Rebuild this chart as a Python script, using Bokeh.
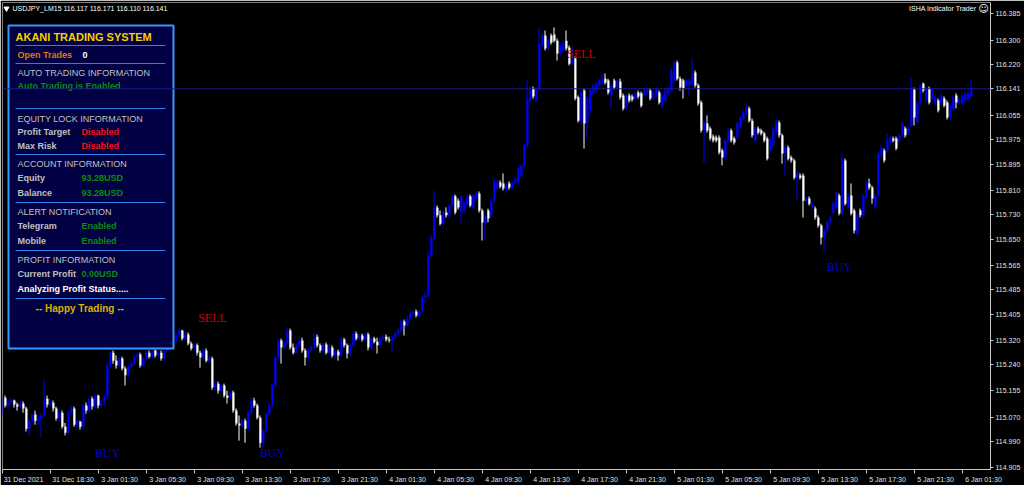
import numpy as np
from bokeh.plotting import figure
from bokeh.models import Range1d, FixedTicker, Label, Span, ColumnDataSource, PrintfTickFormatter
from bokeh.core.properties import value
from bokeh.embed import file_html
from bokeh.resources import INLINE

symbol = "USDJPY_LM15"
indicator_name = "ISHA Indicator Trader"

opens = [
    115.084, 115.133, 115.108, 115.117, 115.124, 115.111, 115.104, 115.114, 115.098, 115.032,
    115.058, 115.078, 115.058, 115.065, 115.075, 115.130, 115.111, 115.117, 115.098, 115.065,
    115.084, 115.038, 115.019, 115.084, 115.098, 115.045, 115.055, 115.038, 115.108, 115.091,
    115.130, 115.104, 115.140, 115.108, 115.117, 115.137, 115.238, 115.280, 115.254, 115.238,
    115.261, 115.228, 115.206, 115.234, 115.244, 115.267, 115.274, 115.238, 115.261, 115.280,
    115.267, 115.287, 115.271, 115.280, 115.261, 115.287, 115.304, 115.310, 115.320, 115.336,
    115.352, 115.326, 115.339, 115.310, 115.294, 115.304, 115.280, 115.264, 115.287, 115.254,
    115.261, 115.166, 115.179, 115.156, 115.173, 115.140, 115.133, 115.150, 115.091, 115.049,
    115.042, 115.058, 115.032, 115.084, 115.124, 115.108, 115.068, 114.986, 115.026, 115.081,
    115.108, 115.173, 115.264, 115.320, 115.297, 115.310, 115.352, 115.297, 115.280, 115.304,
    115.320, 115.287, 115.264, 115.287, 115.297, 115.332, 115.304, 115.287, 115.307, 115.280,
    115.297, 115.271, 115.284, 115.271, 115.323, 115.304, 115.277, 115.304, 115.342, 115.326,
    115.336, 115.323, 115.339, 115.297, 115.326, 115.316, 115.304, 115.326, 115.332, 115.323,
    115.320, 115.329, 115.342, 115.352, 115.382, 115.369, 115.391, 115.407, 115.414, 115.401,
    115.414, 115.460, 115.467, 115.597, 115.656, 115.754, 115.728, 115.701, 115.737, 115.728,
    115.760, 115.790, 115.776, 115.737, 115.744, 115.763, 115.790, 115.754, 115.786, 115.799,
    115.744, 115.701, 115.744, 115.728, 115.776, 115.816, 115.835, 115.832, 115.809, 115.832,
    115.819, 115.835, 115.835, 115.858, 115.891, 115.956, 116.103, 116.142, 116.103, 116.142,
    116.282, 116.315, 116.272, 116.315, 116.318, 116.298, 116.256, 116.266, 116.298, 116.276,
    116.223, 116.240, 116.113, 116.031, 116.135, 116.031, 116.070, 116.126, 116.135, 116.152,
    116.161, 116.174, 116.168, 116.119, 116.168, 116.145, 116.165, 116.119, 116.077, 116.119,
    116.116, 116.109, 116.129, 116.126, 116.119, 116.129, 116.135, 116.109, 116.119, 116.129,
    116.083, 116.103, 116.126, 116.135, 116.168, 116.227, 116.174, 116.168, 116.152, 116.152,
    116.158, 116.194, 116.152, 116.096, 116.005, 116.028, 116.011, 115.985, 115.982, 115.982,
    115.940, 115.917, 115.972, 116.005, 115.979, 115.982, 116.015, 116.044, 116.060, 116.077,
    116.037, 115.972, 116.011, 116.005, 115.995, 115.979, 115.940, 115.956, 115.998, 116.031,
    115.989, 115.930, 115.949, 115.917, 115.907, 115.851, 115.858, 115.858, 115.776, 115.783,
    115.754, 115.750, 115.721, 115.695, 115.656, 115.679, 115.705, 115.737, 115.754, 115.793,
    115.734, 115.907, 115.754, 115.793, 115.744, 115.669, 115.744, 115.728, 115.786, 115.832,
    115.819, 115.754, 115.793, 115.923, 115.940, 115.940, 115.966, 115.979, 115.979, 115.972,
    115.989, 116.011, 115.998, 116.021, 116.139, 116.031, 116.093, 116.158, 116.103, 116.142,
    116.109, 116.093, 116.103, 116.093, 116.109, 116.096, 116.047, 116.077, 116.119, 116.096,
    116.093, 116.103, 116.109, 116.117,
]

highs = [
    115.143, 115.140, 115.124, 115.133, 115.127, 115.117, 115.124, 115.121, 115.104, 115.065,
    115.084, 115.091, 115.075, 115.084, 115.192, 115.140, 115.130, 115.124, 115.104, 115.091,
    115.091, 115.051, 115.091, 115.108, 115.104, 115.062, 115.058, 115.114, 115.117, 115.137,
    115.137, 115.146, 115.143, 115.127, 115.143, 115.248, 115.287, 115.287, 115.271, 115.267,
    115.267, 115.235, 115.241, 115.254, 115.274, 115.280, 115.280, 115.267, 115.287, 115.287,
    115.294, 115.290, 115.287, 115.287, 115.294, 115.310, 115.320, 115.326, 115.342, 115.359,
    115.355, 115.346, 115.346, 115.316, 115.310, 115.310, 115.287, 115.294, 115.294, 115.271,
    115.267, 115.189, 115.186, 115.179, 115.179, 115.156, 115.156, 115.156, 115.098, 115.075,
    115.065, 115.065, 115.091, 115.133, 115.133, 115.114, 115.075, 115.032, 115.088, 115.117,
    115.179, 115.271, 115.326, 115.326, 115.316, 115.362, 115.359, 115.310, 115.310, 115.326,
    115.329, 115.294, 115.294, 115.304, 115.346, 115.339, 115.310, 115.313, 115.313, 115.304,
    115.304, 115.290, 115.290, 115.329, 115.329, 115.310, 115.310, 115.349, 115.349, 115.342,
    115.342, 115.346, 115.346, 115.332, 115.332, 115.329, 115.332, 115.339, 115.339, 115.332,
    115.336, 115.349, 115.359, 115.388, 115.388, 115.398, 115.414, 115.417, 115.421, 115.421,
    115.467, 115.480, 115.613, 115.662, 115.809, 115.760, 115.744, 115.744, 115.754, 115.766,
    115.796, 115.796, 115.783, 115.793, 115.773, 115.796, 115.796, 115.799, 115.806, 115.806,
    115.750, 115.731, 115.750, 115.783, 115.848, 115.842, 115.842, 115.865, 115.835, 115.839,
    115.842, 115.855, 115.887, 115.897, 115.962, 116.168, 116.142, 116.148, 116.148, 116.341,
    116.321, 116.331, 116.305, 116.321, 116.341, 116.305, 116.289, 116.298, 116.331, 116.282,
    116.276, 116.246, 116.119, 116.135, 116.142, 116.116, 116.142, 116.158, 116.165, 116.174,
    116.191, 116.191, 116.174, 116.158, 116.174, 116.171, 116.174, 116.126, 116.126, 116.126,
    116.122, 116.132, 116.135, 116.132, 116.142, 116.145, 116.142, 116.135, 116.148, 116.135,
    116.126, 116.142, 116.148, 116.207, 116.233, 116.233, 116.181, 116.174, 116.174, 116.174,
    116.240, 116.201, 116.158, 116.103, 116.037, 116.054, 116.018, 115.992, 115.989, 115.989,
    115.946, 115.979, 116.011, 116.011, 115.985, 116.034, 116.054, 116.070, 116.096, 116.083,
    116.044, 116.018, 116.018, 116.011, 116.001, 115.985, 115.979, 116.018, 116.044, 116.037,
    115.995, 115.956, 115.956, 115.923, 115.913, 115.871, 115.865, 115.865, 115.790, 115.790,
    115.773, 115.757, 115.728, 115.701, 115.685, 115.711, 115.728, 115.773, 115.806, 115.799,
    115.930, 115.913, 115.799, 115.832, 115.750, 115.734, 115.750, 115.799, 115.842, 115.848,
    115.825, 115.799, 115.936, 115.956, 115.946, 115.995, 115.989, 115.985, 115.985, 115.995,
    116.034, 116.018, 116.021, 116.178, 116.145, 116.099, 116.158, 116.161, 116.148, 116.148,
    116.142, 116.119, 116.109, 116.126, 116.116, 116.103, 116.093, 116.119, 116.126, 116.113,
    116.126, 116.132, 116.132, 116.171,
]

lows = [
    115.075, 115.101, 115.098, 115.111, 115.101, 115.091, 115.098, 115.084, 115.023, 115.010,
    115.051, 115.045, 115.042, 115.003, 115.068, 115.101, 115.104, 115.088, 115.058, 115.055,
    115.032, 115.010, 115.013, 115.078, 115.038, 115.035, 115.029, 115.032, 115.081, 115.084,
    115.094, 115.098, 115.098, 115.101, 115.111, 115.127, 115.228, 115.244, 115.228, 115.231,
    115.222, 115.173, 115.199, 115.228, 115.238, 115.261, 115.231, 115.234, 115.254, 115.261,
    115.261, 115.264, 115.264, 115.254, 115.254, 115.280, 115.297, 115.304, 115.313, 115.329,
    115.320, 115.320, 115.304, 115.287, 115.287, 115.271, 115.231, 115.258, 115.248, 115.248,
    115.159, 115.156, 115.146, 115.150, 115.133, 115.114, 115.127, 115.084, 115.042, 114.993,
    115.035, 114.986, 115.026, 115.078, 115.101, 115.062, 114.970, 114.967, 115.019, 115.075,
    115.101, 115.166, 115.258, 115.244, 115.290, 115.304, 115.290, 115.274, 115.274, 115.297,
    115.280, 115.238, 115.258, 115.280, 115.290, 115.297, 115.280, 115.280, 115.274, 115.274,
    115.264, 115.261, 115.254, 115.264, 115.297, 115.261, 115.271, 115.297, 115.320, 115.320,
    115.316, 115.316, 115.287, 115.290, 115.310, 115.277, 115.297, 115.320, 115.316, 115.313,
    115.280, 115.323, 115.336, 115.346, 115.336, 115.362, 115.385, 115.398, 115.395, 115.395,
    115.407, 115.443, 115.460, 115.590, 115.649, 115.721, 115.695, 115.695, 115.721, 115.721,
    115.754, 115.731, 115.747, 115.701, 115.737, 115.757, 115.754, 115.747, 115.780, 115.737,
    115.646, 115.646, 115.705, 115.721, 115.770, 115.809, 115.816, 115.809, 115.799, 115.812,
    115.812, 115.829, 115.829, 115.852, 115.884, 115.949, 116.096, 116.109, 116.096, 116.135,
    116.276, 116.266, 116.266, 116.285, 116.292, 116.233, 116.250, 116.259, 116.266, 116.217,
    116.217, 116.103, 116.031, 116.025, 115.946, 115.979, 116.060, 116.119, 116.129, 116.145,
    116.155, 116.155, 116.122, 116.080, 116.139, 116.139, 116.106, 116.070, 116.070, 116.096,
    116.099, 116.103, 116.109, 116.080, 116.113, 116.122, 116.103, 116.103, 116.113, 116.090,
    116.077, 116.096, 116.119, 116.129, 116.161, 116.168, 116.135, 116.109, 116.145, 116.119,
    116.152, 116.145, 116.086, 115.998, 115.897, 115.998, 115.972, 115.966, 115.966, 115.927,
    115.891, 115.910, 115.966, 115.966, 115.959, 115.976, 116.008, 116.037, 116.054, 116.031,
    115.982, 115.966, 115.992, 115.989, 115.966, 115.907, 115.933, 115.949, 115.992, 115.982,
    115.897, 115.858, 115.907, 115.900, 115.845, 115.776, 115.845, 115.721, 115.770, 115.760,
    115.747, 115.714, 115.688, 115.633, 115.613, 115.672, 115.698, 115.731, 115.747, 115.728,
    115.728, 115.760, 115.747, 115.728, 115.669, 115.662, 115.721, 115.721, 115.780, 115.812,
    115.766, 115.747, 115.786, 115.917, 115.900, 115.933, 115.959, 115.966, 115.940, 115.966,
    115.982, 115.982, 115.992, 116.015, 116.021, 116.025, 116.086, 116.129, 116.096, 116.090,
    116.103, 116.086, 116.064, 116.086, 116.080, 116.041, 116.041, 116.070, 116.077, 116.090,
    116.086, 116.096, 116.103, 116.110,
]

closes = [
    115.133, 115.108, 115.117, 115.124, 115.111, 115.104, 115.114, 115.098, 115.032, 115.058,
    115.078, 115.058, 115.065, 115.075, 115.130, 115.111, 115.117, 115.098, 115.065, 115.084,
    115.038, 115.019, 115.084, 115.098, 115.045, 115.055, 115.038, 115.108, 115.091, 115.130,
    115.104, 115.140, 115.108, 115.117, 115.137, 115.238, 115.280, 115.254, 115.238, 115.261,
    115.228, 115.206, 115.234, 115.244, 115.267, 115.274, 115.238, 115.261, 115.280, 115.267,
    115.287, 115.271, 115.280, 115.261, 115.287, 115.304, 115.310, 115.320, 115.336, 115.352,
    115.326, 115.339, 115.310, 115.294, 115.304, 115.280, 115.264, 115.287, 115.254, 115.261,
    115.166, 115.179, 115.156, 115.173, 115.140, 115.133, 115.150, 115.091, 115.049, 115.042,
    115.058, 115.032, 115.084, 115.124, 115.108, 115.068, 114.986, 115.026, 115.081, 115.108,
    115.173, 115.264, 115.320, 115.297, 115.310, 115.352, 115.297, 115.280, 115.304, 115.320,
    115.287, 115.264, 115.287, 115.297, 115.332, 115.304, 115.287, 115.307, 115.280, 115.297,
    115.271, 115.284, 115.271, 115.323, 115.304, 115.277, 115.304, 115.342, 115.326, 115.336,
    115.323, 115.339, 115.297, 115.326, 115.316, 115.304, 115.326, 115.332, 115.323, 115.320,
    115.329, 115.342, 115.352, 115.382, 115.369, 115.391, 115.407, 115.414, 115.401, 115.414,
    115.460, 115.467, 115.597, 115.656, 115.754, 115.728, 115.701, 115.737, 115.728, 115.760,
    115.790, 115.737, 115.754, 115.786, 115.766, 115.790, 115.760, 115.793, 115.799, 115.744,
    115.705, 115.724, 115.718, 115.776, 115.842, 115.835, 115.822, 115.816, 115.829, 115.819,
    115.835, 115.848, 115.881, 115.891, 115.956, 116.109, 116.135, 116.116, 116.142, 116.289,
    116.315, 116.272, 116.298, 116.292, 116.298, 116.256, 116.282, 116.292, 116.272, 116.223,
    116.240, 116.109, 116.037, 116.129, 116.028, 116.109, 116.135, 116.152, 116.158, 116.168,
    116.174, 116.161, 116.129, 116.152, 116.145, 116.165, 116.113, 116.077, 116.119, 116.103,
    116.106, 116.126, 116.116, 116.086, 116.135, 116.135, 116.109, 116.129, 116.142, 116.096,
    116.119, 116.135, 116.142, 116.201, 116.227, 116.174, 116.145, 116.142, 116.168, 116.168,
    116.191, 116.152, 116.093, 116.005, 116.031, 116.005, 115.979, 115.972, 115.972, 115.933,
    115.917, 115.972, 116.005, 115.972, 115.966, 116.028, 116.047, 116.064, 116.077, 116.037,
    115.989, 116.011, 115.998, 115.995, 115.972, 115.913, 115.972, 116.011, 116.031, 115.989,
    115.930, 115.949, 115.913, 115.907, 115.851, 115.865, 115.851, 115.776, 115.783, 115.766,
    115.766, 115.721, 115.695, 115.656, 115.679, 115.705, 115.721, 115.766, 115.799, 115.734,
    115.907, 115.766, 115.793, 115.734, 115.679, 115.728, 115.728, 115.793, 115.835, 115.819,
    115.783, 115.793, 115.930, 115.949, 115.907, 115.972, 115.982, 115.972, 115.946, 115.989,
    116.028, 115.989, 116.015, 116.142, 116.047, 116.093, 116.152, 116.135, 116.142, 116.096,
    116.135, 116.113, 116.070, 116.119, 116.086, 116.047, 116.086, 116.113, 116.096, 116.106,
    116.119, 116.126, 116.126, 116.141,
]

time_labels = [
    "31 Dec 2021", "31 Dec 18:30", "3 Jan 01:30", "3 Jan 05:30", "3 Jan 09:30",
    "3 Jan 13:30", "3 Jan 17:30", "3 Jan 21:30", "4 Jan 01:30", "4 Jan 05:30",
    "4 Jan 09:30", "4 Jan 13:30", "4 Jan 17:30", "4 Jan 21:30", "5 Jan 01:30",
    "5 Jan 05:30", "5 Jan 09:30", "5 Jan 13:30", "5 Jan 17:30", "5 Jan 21:30",
    "6 Jan 01:30",
]
bars_per_time_label = 16

price_ticks = [116.385, 116.300, 116.220, 116.055, 115.975, 115.895, 115.810,
               115.730, 115.650, 115.565, 115.485, 115.405, 115.320, 115.240,
               115.155, 115.070, 114.990, 114.905]
bid_price = 116.141

signal_kinds = ["BUY", "BUY", "BUY", "SELL", "SELL"]
signal_bars = [35, 90, 279, 70, 193]
signal_prices = [114.954, 114.954, 115.558, 115.393, 116.256]

panel_title = "AKANI TRADING SYSTEM"
open_trades = "0"
equity = "93.28USD"
balance = "93.28USD"
current_profit = "0.00USD"

# ---------------------------------------------------------------- layout helpers
def X(px):      # horizontal image pixel -> bar index
    return (px - 2) / 3.0

def Y(py):      # vertical image pixel -> price
    return 116.429 - py / 306.5

n = len(closes)
o = np.array(opens)
h = np.array(highs)
l = np.array(lows)
c = np.array(closes)
idx = np.arange(n)
bull = c >= o
colors = np.where(bull, "#0000ff", "#ffffff")

src = ColumnDataSource(dict(
    x=idx, wx=idx - 1.0 / 6.0,
    top=np.maximum(o, c), bottom=np.minimum(o, c),
    high=h, low=l, color=colors,
))

p = figure(width=1024, height=485,
           x_range=Range1d(X(2), X(990)), y_range=Range1d(Y(469), Y(2)),
           y_axis_location="right", output_backend="svg", toolbar_location=None,
           background_fill_color="#000000", border_fill_color="#000000",
           min_border_left=2, min_border_top=2, min_border_right=34, min_border_bottom=16)
p.outline_line_color = "#808080"
p.xgrid.visible = False
p.ygrid.visible = False

AX = "#c8c8c8"
# ---- x axis (labels left-aligned at tick marks)
tick_pos = [k * bars_per_time_label for k in range(len(time_labels))]
label_pos = []
for t, s in zip(tick_pos, time_labels):
    w = len(s) * 3.4
    label_pos.append(t + round(((w / 2 + 2) / 3.0) * 4) / 4)
xa = p.xaxis[0]
xa.ticker = FixedTicker(ticks=label_pos, minor_ticks=tick_pos)
xa.major_label_overrides = {pos: s for pos, s in zip(label_pos, time_labels)}
xa.major_tick_out = 0
xa.major_tick_in = 0
xa.minor_tick_out = 4
xa.minor_tick_in = 0
xa.minor_tick_line_color = AX
xa.axis_line_color = AX
xa.major_label_text_color = "#e0e0e0"
xa.major_label_text_font = "Liberation Sans"
xa.major_label_text_font_size = "7px"
xa.major_label_standoff = 2

# ---- y axis
ya = p.yaxis[0]
ya.ticker = FixedTicker(ticks=price_ticks + [bid_price], minor_ticks=[])
ya.formatter = PrintfTickFormatter(format="%.3f")
ya.major_tick_out = 3
ya.major_tick_in = 0
ya.major_tick_line_color = AX
ya.axis_line_color = AX
ya.major_label_text_color = "#e0e0e0"
ya.major_label_text_font = "Liberation Sans"
ya.major_label_text_font_size = "7px"
ya.major_label_standoff = 2

# ---- bid line
p.add_layout(Span(location=bid_price, dimension="width", line_color="#1c1c8c", line_width=1))

# ---- candles
p.segment(x0="wx", y0="high", x1="wx", y1="low", line_color="color", line_width=1, source=src)
p.vbar(x="x", width=2.0 / 3.0, top="top", bottom="bottom", fill_color="color",
       line_color=None, source=src)

# ---- signals
sig_colors = ["#0000d0" if k == "BUY" else "#d00000" for k in signal_kinds]
p.text(x=signal_bars, y=signal_prices, text=signal_kinds, text_color=sig_colors,
       text_font=value("Liberation Serif"), text_font_size="12px",
       text_align="center", text_baseline="middle")

# ---- header texts
p.scatter(x=[X(6)], y=[Y(8)], marker="inverted_triangle", size=5,
          fill_color="#ffffff", line_color="#ffffff")
header = f"{symbol}  {opens[-1]:.3f} {highs[-1]:.3f} {lows[-1]:.3f} {closes[-1]:.3f}"
p.text(x=[X(12)], y=[Y(8)], text=[header], text_color="#ffffff",
       text_font=value("Liberation Sans"), text_font_size="7px", text_baseline="middle")
p.text(x=[X(976)], y=[Y(8)], text=[indicator_name], text_color="#ffffff",
       text_font=value("Liberation Sans"), text_font_size="7px",
       text_baseline="middle", text_align="right")
p.text(x=[X(983)], y=[Y(8)], text=["\u263a"], text_color="#ffffff",
       text_font=value("DejaVu Sans"), text_font_size="10px",
       text_baseline="middle", text_align="center")

# ---- info panel
p.quad(left=X(8), right=X(173), top=Y(25), bottom=Y(348),
       fill_color="#000042", line_color="#3a96ff", line_width=2)
sep_y = [45, 63, 108, 154, 202, 250, 298]
p.segment(x0=[X(15)] * len(sep_y), x1=[X(165)] * len(sep_y),
          y0=[Y(v) for v in sep_y], y1=[Y(v) for v in sep_y],
          line_color="#2a7fe8", line_width=1)

def ptext(items, color, size="9px", style="normal", align="left"):
    p.text(x=[X(a) for a, b, t in items], y=[Y(b) for a, b, t in items],
           text=[t for a, b, t in items], text_color=color,
           text_font=value("Liberation Sans"), text_font_size=size,
           text_font_style=style, text_baseline="middle", text_align=align)

ptext([(15, 36, panel_title)], "#f5d000", size="11px", style="bold")
ptext([(17, 54, "Open Trades")], "#e07a10", style="bold")
ptext([(82, 54, open_trades), (17, 288, "Analyzing Profit Status.....")], "#ffffff", style="bold")
ptext([(17, 72, "AUTO TRADING INFORMATION"), (17, 118, "EQUITY LOCK INFORMATION"),
       (17, 163, "ACCOUNT INFORMATION"), (17, 211, "ALERT NOTIFICATION"),
       (17, 259, "PROFIT INFORMATION")], "#c0c0c0")
ptext([(17, 131, "Profit Target"), (17, 145, "Max Risk"), (17, 177, "Equity"),
       (17, 192, "Balance"), (17, 225, "Telegram"), (17, 240, "Mobile"),
       (17, 273, "Current Profit")], "#c0c0c0", style="bold")
ptext([(81, 131, "Disabled"), (81, 145, "Disabled")], "#ff1010", style="bold")
ptext([(17, 85, "Auto Trading is Enabled"), (81, 177, equity), (81, 192, balance),
       (81, 225, "Enabled"), (81, 240, "Enabled"), (81, 273, current_profit)],
      "#0c8c0c", style="bold")
ptext([(82, 308, "--  Happy Trading  --")], "#d8b400", size="10px", style="bold", align="center")

# ---- bid price box on the price scale (drawn over the axis label)
p.add_layout(Label(x=X(990), y=bid_price, x_offset=2, text=f"{bid_price:.3f}",
                   text_align="left", text_baseline="middle", level="overlay",
                   text_font="Liberation Sans", text_font_size="7px", text_color="#000000",
                   background_fill_color="#ffffff", border_line_color="#c8c8c8",
                   padding=1))

open("out.html", "w").write(file_html(p, INLINE))
